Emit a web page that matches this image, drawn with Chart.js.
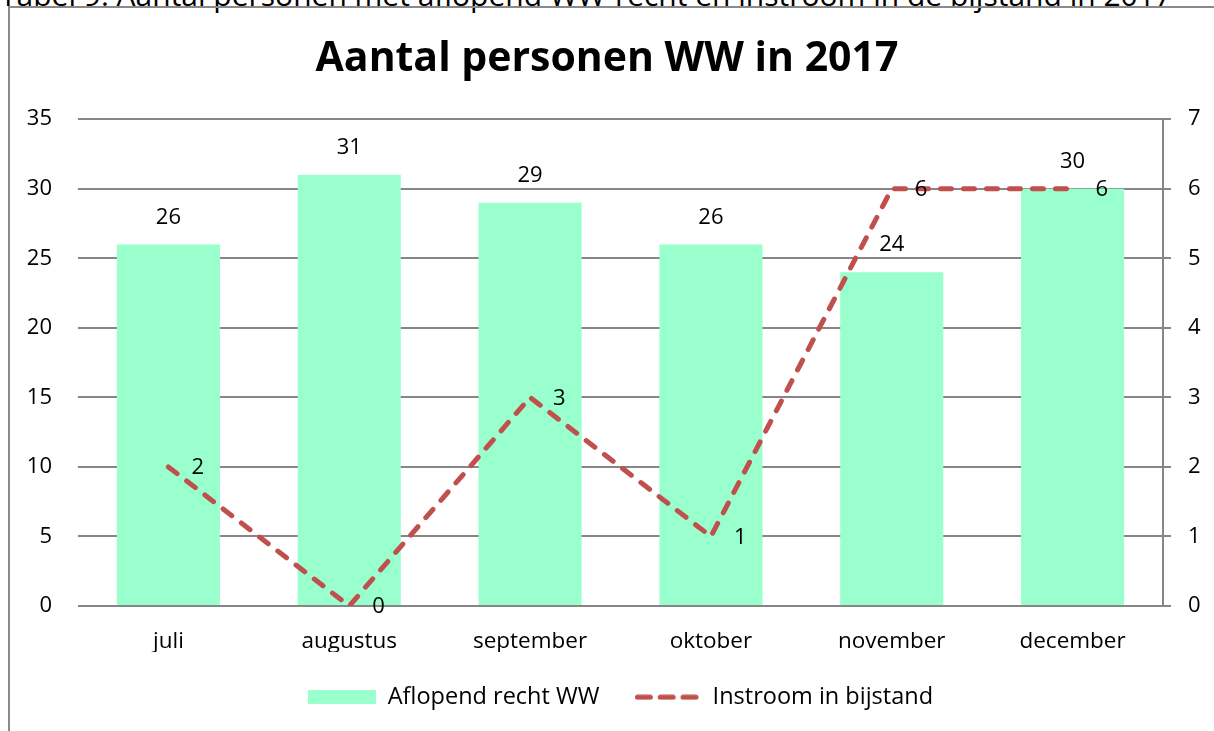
<!DOCTYPE html>
<html><head><meta charset="utf-8">
<script src="https://cdn.jsdelivr.net/npm/chart.js@4.4.1/dist/chart.umd.min.js"></script>
<style>
html,body{margin:0;padding:0;background:#fff;overflow:hidden;}
#wrap{position:relative;width:1214px;height:731px;overflow:hidden;background:#fff;}
#caption{position:absolute;left:0;top:-20px;font-family:'Open Sans';font-size:30px;line-height:30px;white-space:nowrap;color:#000;}
#frame{position:absolute;left:8px;top:6px;width:1230px;height:760px;border:2px solid #8a8a8a;box-sizing:border-box;pointer-events:none;}
canvas{position:absolute;left:0;top:0;}
</style></head>
<body><div id="wrap"><div id="caption">Tabel 9: Aantal personen met aflopend WW-recht en instroom in de bijstand in 2017</div><div id="frame"></div><canvas id="c" width="1214" height="731"></canvas></div>
<script>
const categories = ['juli', 'augustus', 'september', 'oktober', 'november', 'december'];
const aflopendRechtWW = [26, 31, 29, 26, 24, 30];
const instroomBijstand = [2, 0, 3, 1, 6, 6];
const leftTicks = [0, 5, 10, 15, 20, 25, 30, 35];
const rightTicks = [0, 1, 2, 3, 4, 5, 6, 7];
const titleText = 'Aantal personen WW in 2017';
const seriesNames = ['Aflopend recht WW', 'Instroom in bijstand'];

const BAR_COLOR = '#99FFCC';
const LINE_COLOR = '#C0504D';
const GRID_COLOR = '#868686';
const FONT = 'Open Sans';

// legend swatches
const barSwatch = document.createElement('canvas');
barSwatch.width = 68; barSwatch.height = 14;
{ const g = barSwatch.getContext('2d'); g.fillStyle = BAR_COLOR; g.fillRect(0, 0, 68, 14); }
const lineSwatch = document.createElement('canvas');
lineSwatch.width = 64; lineSwatch.height = 6;
{ const g = lineSwatch.getContext('2d'); g.strokeStyle = LINE_COLOR; g.lineWidth = 5; g.lineCap = 'round';
  for (let k = 0; k < 3; k++) { const x0 = 2.5 + k * 22.8; g.beginPath(); g.moveTo(x0, 3); g.lineTo(x0 + 13, 3); g.stroke(); } }

const valueLabels = {
  id: 'valueLabels',
  afterDatasetsDraw(chart) {
    const ctx = chart.ctx;
    ctx.save();
    ctx.font = '22px "' + FONT + '"';
    ctx.fillStyle = '#000';
    ctx.textBaseline = 'middle';
    const barMeta = chart.getDatasetMeta(1);
    ctx.textAlign = 'center';
    barMeta.data.forEach((el, i) => ctx.fillText(String(chart.data.datasets[1].data[i]), el.x, el.y - 27));
    const lineMeta = chart.getDatasetMeta(0);
    ctx.textAlign = 'left';
    lineMeta.data.forEach((el, i) => ctx.fillText(String(chart.data.datasets[0].data[i]), el.x + 23, el.y + 1));
    ctx.restore();
  }
};

new Chart(document.getElementById('c'), {
  type: 'bar',
  data: {
    labels: categories,
    datasets: [
      {
        type: 'line', label: seriesNames[1], data: instroomBijstand, yAxisID: 'y1',
        borderColor: LINE_COLOR, borderWidth: 5, borderDash: [11, 12], borderCapStyle: 'round',
        pointRadius: 0, pointHoverRadius: 0, tension: 0, fill: false
      },
      {
        type: 'bar', label: seriesNames[0], data: aflopendRechtWW, yAxisID: 'y',
        backgroundColor: BAR_COLOR, borderWidth: 0, categoryPercentage: 1, barPercentage: 0.57
      }
    ]
  },
  options: {
    responsive: false,
    animation: false,
    layout: { padding: { left: 0, right: 0, top: 0, bottom: 12 } },
    plugins: {
      title: {
        display: true, text: titleText, color: '#000',
        font: { family: FONT, size: 41, weight: 'bold' },
        padding: { top: 35, bottom: 35 }
      },
      legend: {
        position: 'bottom',
        fullSize: false,
        labels: {
          usePointStyle: true, pointStyleWidth: 68, padding: 33.5, color: '#000',
          font: { family: FONT, size: 23.5 },
          generateLabels: () => [
            { text: seriesNames[0], pointStyle: barSwatch, fillStyle: BAR_COLOR, strokeStyle: BAR_COLOR, lineWidth: 0, hidden: false, datasetIndex: 1 },
            { text: seriesNames[1], pointStyle: lineSwatch, fillStyle: LINE_COLOR, strokeStyle: LINE_COLOR, lineWidth: 0, hidden: false, datasetIndex: 0 }
          ]
        }
      },
      tooltip: { enabled: false }
    },
    scales: {
      x: {
        grid: { display: false },
        border: { display: false },
        ticks: { color: '#000', font: { family: FONT, size: 22.5 }, padding: 14, maxRotation: 0 },
        afterFit: (s) => { s.height = 46; }
      },
      y: {
        position: 'left',
        min: leftTicks[0], max: leftTicks[leftTicks.length - 1], ticks: { stepSize: leftTicks[1] - leftTicks[0], color: '#000', font: { family: FONT, size: 22 }, padding: 26 },
        grid: { color: GRID_COLOR, lineWidth: 2, drawTicks: false },
        border: { display: false },
        afterFit: (s) => { s.width = 78; }
      },
      y1: {
        position: 'right',
        min: rightTicks[0], max: rightTicks[rightTicks.length - 1], ticks: { stepSize: rightTicks[1] - rightTicks[0], color: '#000', font: { family: FONT, size: 22 }, padding: 17 },
        grid: { drawOnChartArea: false, color: GRID_COLOR, lineWidth: 2, tickLength: 8 },
        border: { display: true, color: GRID_COLOR, width: 2 },
        afterFit: (s) => { s.width = 51; }
      }
    }
  },
  plugins: [valueLabels]
});
</script>
</body></html>
